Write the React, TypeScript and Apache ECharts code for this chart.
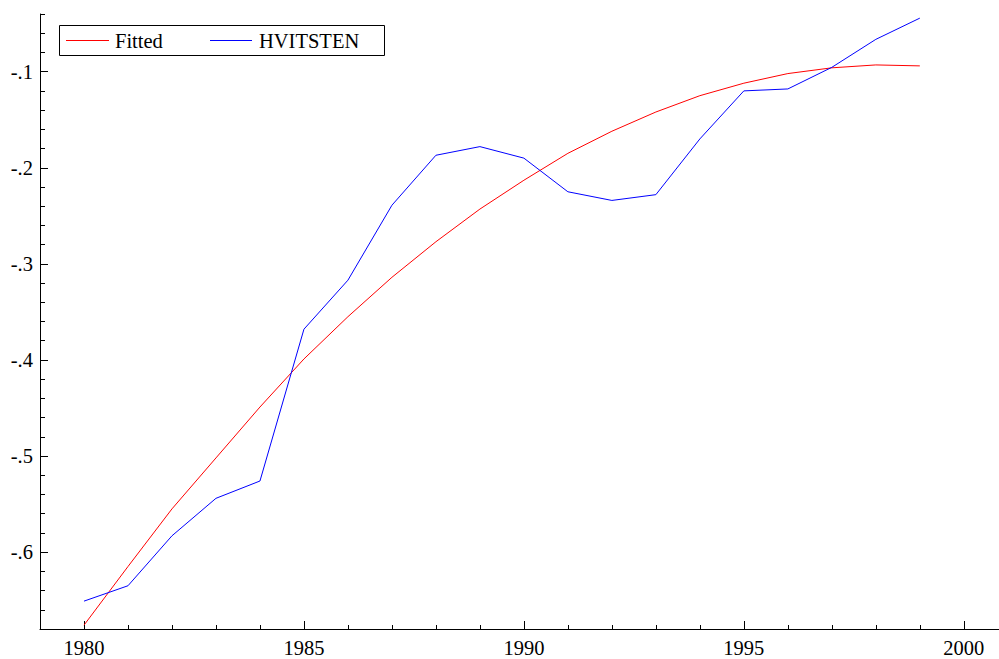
import React, { useEffect, useRef } from "react";
import * as echarts from "echarts";

const years = [1980, 1981, 1982, 1983, 1984, 1985, 1986, 1987, 1988, 1989, 1990, 1991, 1992, 1993, 1994, 1995, 1996, 1997, 1998, 1999];
const fitted = [-0.676, -0.615, -0.555, -0.502, -0.449, -0.399, -0.355, -0.314, -0.277, -0.243, -0.213, -0.185, -0.162, -0.142, -0.125, -0.112, -0.102, -0.096, -0.093, -0.094];
const hvitsten = [-0.651, -0.635, -0.583, -0.544, -0.526, -0.368, -0.317, -0.239, -0.187, -0.178, -0.190, -0.225, -0.234, -0.228, -0.170, -0.120, -0.118, -0.0955, -0.0664, -0.0443];

const seriesNames = ["Fitted", "HVITSTEN"];
const xMajorTicks = [1980, 1985, 1990, 1995, 2000];
const xMinorTicks = [1979, 1980, 1981, 1982, 1983, 1984, 1985, 1986, 1987, 1988, 1989, 1990, 1991, 1992, 1993, 1994, 1995, 1996, 1997, 1998, 1999, 2000];
const yMajorTicks = [-0.6, -0.5, -0.4, -0.3, -0.2, -0.1];
const yMinorTicks = [-0.68, -0.66, -0.64, -0.62, -0.6, -0.58, -0.56, -0.54, -0.52, -0.5, -0.48, -0.46, -0.44, -0.42, -0.4, -0.38, -0.36, -0.34, -0.32, -0.3, -0.28, -0.26, -0.24, -0.22, -0.2, -0.18, -0.16, -0.14, -0.12, -0.1, -0.08, -0.06, -0.04];

const FONT = "Liberation Serif";
const FS = 20.5;
const RED = "#ff0000";
const BLUE = "#0000ff";

export default function App() {
  const ref = useRef<HTMLDivElement>(null);
  useEffect(() => {
    if (!ref.current) return;
    const chart = echarts.init(ref.current, undefined, { renderer: "svg" });
    const axisLineStyle = { color: "#000", width: 1 };
    const legendY = 40.5;
    chart.setOption({
      animation: false,
      backgroundColor: "#fff",
      color: [RED, BLUE],
      textStyle: { fontFamily: FONT, color: "#000" },
      grid: { left: 40, right: 0, top: 14, bottom: 30, containLabel: false },
      graphic: [
        {
          type: "group",
          z: 100,
          children: [
            {
              type: "rect",
              shape: { x: 59.5, y: 25.5, width: 325, height: 30 },
              style: { fill: "#fff", stroke: "#000", lineWidth: 1 },
            },
            {
              type: "line",
              shape: { x1: 66, y1: legendY, x2: 109, y2: legendY },
              style: { stroke: RED, lineWidth: 1 },
            },
            {
              type: "text",
              x: 115,
              y: legendY,
              style: { text: seriesNames[0], fontFamily: FONT, fontSize: FS, fill: "#000", verticalAlign: "middle", align: "left" },
            },
            {
              type: "line",
              shape: { x1: 210, y1: legendY, x2: 252, y2: legendY },
              style: { stroke: BLUE, lineWidth: 1 },
            },
            {
              type: "text",
              x: 259,
              y: legendY,
              style: { text: seriesNames[1], fontFamily: FONT, fontSize: FS, fill: "#000", verticalAlign: "middle", align: "left" },
            },
          ],
        },
      ],
      xAxis: [
        {
          type: "value",
          min: 1979,
          max: 2000.8,
          splitLine: { show: false },
          axisLine: { show: true, lineStyle: axisLineStyle },
          axisTick: { show: true, inside: true, length: 8, customValues: xMajorTicks, lineStyle: axisLineStyle },
          axisLabel: {
            show: true,
            customValues: xMajorTicks,
            margin: 8,
            fontFamily: FONT,
            fontSize: FS,
            color: "#000",
            formatter: (v: number) => String(v),
          },
        },
        {
          type: "value",
          min: 1979,
          max: 2000.8,
          position: "bottom",
          splitLine: { show: false },
          axisLine: { show: false },
          axisTick: { show: true, inside: true, length: 4, customValues: xMinorTicks, lineStyle: axisLineStyle },
          axisLabel: { show: false },
        },
      ],
      yAxis: [
        {
          type: "value",
          min: -0.68,
          max: -0.04,
          splitLine: { show: false },
          axisLine: { show: true, lineStyle: axisLineStyle },
          axisTick: { show: true, inside: true, length: 8, customValues: yMajorTicks, lineStyle: axisLineStyle },
          axisLabel: {
            show: true,
            customValues: yMajorTicks,
            margin: 7,
            fontFamily: FONT,
            fontSize: FS,
            color: "#000",
            formatter: (v: number) => v.toFixed(1).replace("-0.", "-."),
          },
        },
        {
          type: "value",
          min: -0.68,
          max: -0.04,
          position: "left",
          splitLine: { show: false },
          axisLine: { show: false },
          axisTick: { show: true, inside: true, length: 5, customValues: yMinorTicks, lineStyle: axisLineStyle },
          axisLabel: { show: false },
        },
      ],
      series: [
        {
          name: seriesNames[0],
          type: "line",
          xAxisIndex: 0,
          yAxisIndex: 0,
          symbol: "none",
          lineStyle: { color: RED, width: 1 },
          itemStyle: { color: RED },
          data: years.map((y, i) => [y, fitted[i]]),
        },
        {
          name: seriesNames[1],
          type: "line",
          xAxisIndex: 0,
          yAxisIndex: 0,
          symbol: "none",
          lineStyle: { color: BLUE, width: 1 },
          itemStyle: { color: BLUE },
          data: years.map((y, i) => [y, hvitsten[i]]),
        },
      ],
    });
    return () => chart.dispose();
  }, []);
  return (
    <div
      ref={ref}
      style={{ position: "absolute", left: 0, top: 0, width: 999, height: 659 }}
    />
  );
}
